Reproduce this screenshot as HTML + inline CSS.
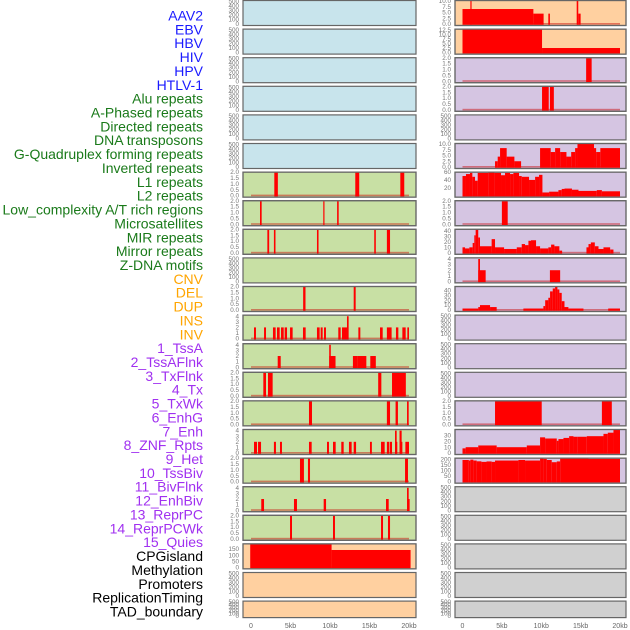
<!DOCTYPE html>
<html><head><meta charset="utf-8">
<style>
html,body{margin:0;padding:0;background:#fff;width:630px;height:630px;overflow:hidden}
svg{display:block;font-family:"Liberation Sans",sans-serif}
</style></head>
<body>
<svg id="chart" width="630" height="630" viewBox="0 0 630 630" xmlns="http://www.w3.org/2000/svg"></svg>
<script>
const trackLabels=["AAV2","EBV","HBV","HIV","HPV","HTLV-1","Alu repeats","A-Phased repeats","Directed repeats","DNA transposons","G-Quadruplex forming repeats","Inverted repeats","L1 repeats","L2 repeats","Low_complexity A/T rich regions","Microsatellites","MIR repeats","Mirror repeats","Z-DNA motifs","CNV","DEL","DUP","INS","INV","1_TssA","2_TssAFlnk","3_TxFlnk","4_Tx","5_TxWk","6_EnhG","7_Enh","8_ZNF_Rpts","9_Het","10_TssBiv","11_BivFlnk","12_EnhBiv","13_ReprPC","14_ReprPCWk","15_Quies","CPGisland","Methylation","Promoters","ReplicationTiming","TAD_boundary"];
const labelColors=[].concat(Array(6).fill("#1a1aff"),Array(13).fill("#1a7a1a"),Array(5).fill("#ffa500"),Array(15).fill("#a030f0"),Array(5).fill("#000"));
const xTickLabels=["0","5kb","10kb","15kb","20kb"];
const xTickValues=[0,5,10,15,20];
const emptyTicks=[0,100,200,300,400,500];
const t2=[0,0.5,1,1.5,2];
const t4=[0,1,2,3,4];
// segments: [startKb,endKb,value]
const L6=[[2.95,3.4,2],[13.2,13.7,2],[18.9,19.4,2]];
const L7=[[1.14,1.35,2],[9.15,9.3,2],[10.9,11.1,2]];
const L8=[[2.07,2.3,2],[2.9,3.1,2],[8.35,8.55,2],[15.6,15.8,2],[17.2,17.6,2]];
const L10=[[6.6,6.9,2],[13.0,13.25,2]];
const L11=[[0.38,0.63,2],[1.65,1.9,2],[2.78,3.12,2],[3.29,3.63,2],[3.8,4.14,2],[4.26,4.56,2],[4.94,5.27,2],[6.58,6.92,2],[8.35,8.69,2],[8.82,9.07,2],[9.24,9.49,2],[11.05,11.35,2],[11.52,12.15,2],[12.15,12.36,4],[13.59,13.84,2],[16.33,16.67,2],[17.2,17.8,2],[18.35,18.65,2],[19.16,19.58,2],[19.79,20.0,2]];
const L12=[[3.38,3.76,2],[9.9,10.7,2],[9.9,10.1,4],[12.9,13.5,2],[13.5,14.6,2],[15.1,15.8,2]];
const L13=[[1.56,1.9,2],[2.15,2.74,2],[16.1,16.5,2],[17.85,19.6,2]];
const L14=[[7.34,7.72,2],[17.2,17.6,2],[18.3,18.6,2],[19.75,19.96,2]];
const L15=[[0.38,0.76,2],[0.89,1.27,2],[2.9,3.16,2],[3.67,3.92,2],[7.34,7.68,2],[9.62,9.87,2],[10.38,10.72,2],[11.43,11.73,2],[12.4,12.74,2],[13.0,13.3,2],[15.06,15.3,2],[16.46,16.92,2],[17.2,17.47,2],[17.55,17.85,2],[18.23,18.52,2],[18.86,19.16,2],[19.54,20.0,2],[18.23,18.44,4],[18.8,19.07,4]];
const L16=[[6.2,6.7,2],[7.21,7.47,2],[19.5,19.87,2]];
const L17=[[1.3,1.65,2],[5.44,5.82,2],[9.2,9.5,2],[17.09,17.43,2],[19.79,20.08,2],[19.75,19.96,4]];
const L18=[[4.94,5.19,2],[10.38,10.63,2],[16.46,16.71,2],[17.34,17.6,2]];
const L19=[[-0.1,10.2,190],[10.2,20.2,143]];
const R0=[[0,9.0,6.5],[9.0,10.3,4.5],[1.0,1.15,10.2],[10.9,11.1,4.5],[14.5,14.7,10.2],[14.7,15.0,4.5]];
const R1=[[0,10.1,12.8],[10.1,20.0,2.5]];
const R2=[[15.7,16.4,2]];
const R3=[[10.1,10.95,2],[11.1,11.6,2]];
const R5=[[4.13,4.47,2.5],[4.47,4.77,4.5],[4.77,5.61,8.2],[5.61,6.59,4.5],[6.59,7.44,2.5],[9.85,11.2,8.2],[11.2,11.76,6.5],[11.76,12.4,8.2],[12.4,13.2,6.5],[13.2,13.8,4.5],[13.8,14.3,6.5],[14.3,14.6,8.2],[14.6,16.7,10.2],[16.7,16.97,8.2],[16.97,17.5,6.5],[17.5,20.0,8.2]];
const R6=[[0,0.44,50],[0.44,0.95,55],[0.95,1.25,58],[1.25,1.59,48],[1.59,1.93,38],[1.93,3.28,58],[3.28,4.05,60],[4.05,4.89,58],[4.89,5.4,52],[5.4,6.04,58],[6.04,6.46,55],[6.46,7.18,58],[7.18,7.52,50],[7.52,8.45,48],[8.45,9.22,40],[9.22,9.72,48],[9.72,10.15,53],[10.15,11.0,8],[11.0,12.18,10],[12.18,12.6,14],[12.6,12.95,17],[12.95,13.9,18],[13.9,14.73,15],[14.73,17.05,12],[17.05,17.7,14],[17.7,20.0,11]];
const R7=[[5.0,5.74,2]];
const R8=[[0,0.32,10],[0.32,0.87,8],[0.87,1.29,10],[1.29,1.5,18],[1.5,1.67,32],[1.67,2.0,43],[2.0,2.22,28],[2.22,3.7,12],[3.7,4.13,25],[4.13,5.28,10],[5.28,6.89,7],[6.89,7.52,10],[7.52,7.94,16],[7.94,8.37,14],[8.37,8.7,22],[8.7,9.34,23],[9.34,9.85,12],[9.85,10.9,8],[10.9,11.25,10],[11.25,11.67,15],[11.67,12.3,12],[12.3,12.65,4],[15.74,16.0,10],[16.0,16.3,16],[16.3,16.8,19],[16.8,17.27,12],[17.27,17.9,7],[17.9,18.75,10],[18.75,19.17,6]];
const R9=[[2.0,2.94,2],[2.0,2.22,4],[11.1,12.4,2]];
const R10=[[0,2.0,3],[2.0,2.22,6],[2.22,3.5,10],[3.5,4.34,6],[7.73,10.27,3],[10.27,10.5,8],[10.5,10.9,20],[10.9,11.12,25],[11.12,11.46,38],[11.46,11.76,44],[11.76,12.05,48],[12.05,12.3,42],[12.3,12.6,35],[12.6,12.95,18],[12.95,13.45,6],[13.45,15.36,3],[18.5,20.0,3]];
const R14=[[4.13,10.06,2],[17.7,18.96,2]];
const R15=[[0,0.4,8],[0.4,2.0,10],[2.0,4.34,13],[4.34,8.16,10],[8.16,9.85,13],[9.85,10.49,27],[10.49,11.97,25],[11.97,12.18,21],[12.18,12.82,24],[12.82,13.54,26],[13.54,14.09,29],[14.09,14.64,28],[14.64,15.78,28],[15.78,17.9,29],[17.9,18.45,33],[18.45,19.17,35],[19.17,20.0,40]];
const R16=[[0,0.8,195],[0.8,1.0,190],[1.0,1.38,198],[1.38,1.8,190],[1.8,2.4,183],[2.4,3.05,178],[3.05,3.7,182],[3.7,4.13,178],[4.13,7.1,190],[7.1,7.94,195],[7.94,9.85,190],[9.85,10.27,210],[10.27,10.7,205],[10.7,11.33,195],[11.33,11.97,175],[11.97,12.4,182],[12.4,16.0,210],[16.0,20.0,205]];

const BLUE="#c8e4ec",GREEN="#c8e0a4",ORANGE="#ffd0a0",PURPLE="#d5c5e2",GRAY="#d0d0d0";
const leftPanels=[];
for(let i=0;i<22;i++){leftPanels.push({seg:null,ymax:520,ticks:emptyTicks,fmt:0,color:i<6?BLUE:(i<19?GREEN:ORANGE)});}
const setP=(p,seg,ymax,ticks,fmt)=>{p.seg=seg;p.ymax=ymax;p.ticks=ticks;p.fmt=fmt;};
setP(leftPanels[6],L6,2,t2,1);setP(leftPanels[7],L7,2,t2,1);setP(leftPanels[8],L8,2,t2,1);
setP(leftPanels[10],L10,2,t2,1);setP(leftPanels[11],L11,4.2,t4,0);setP(leftPanels[12],L12,4.2,t4,0);
setP(leftPanels[13],L13,2,t2,1);setP(leftPanels[14],L14,2,t2,1);setP(leftPanels[15],L15,4.2,t4,0);
setP(leftPanels[16],L16,2,t2,1);setP(leftPanels[17],L17,4.2,t4,0);setP(leftPanels[18],L18,2,t2,1);
setP(leftPanels[19],L19,193,[0,50,100,150],0);
const rightPanels=[];
for(let i=0;i<22;i++){rightPanels.push({seg:null,ymax:520,ticks:emptyTicks,fmt:0,color:i<2?ORANGE:(i<17?PURPLE:GRAY)});}
setP(rightPanels[0],R0,10.2,[0,2.5,5,7.5,10],1);setP(rightPanels[1],R1,12.8,[0,2.5,5,7.5,10,12.5],1);
setP(rightPanels[2],R2,2,t2,1);setP(rightPanels[3],R3,2,t2,1);setP(rightPanels[5],R5,10.2,[0,2.5,5,7.5,10],1);
setP(rightPanels[6],R6,60,[20,40,60],0);setP(rightPanels[7],R7,2,t2,1);setP(rightPanels[8],R8,43,[0,10,20,30,40],0);
setP(rightPanels[9],R9,4.2,t4,0);setP(rightPanels[10],R10,48,[0,10,20,30,40],0);setP(rightPanels[14],R14,2,t2,1);
setP(rightPanels[15],R15,40.5,[0,10,20,30],0);setP(rightPanels[16],R16,212,[0,50,100,150,200],0);

const NS="http://www.w3.org/2000/svg";
const svg=document.getElementById("chart");
function el(tag,attrs,parent){const e=document.createElementNS(NS,tag);for(const k in attrs)e.setAttribute(k,attrs[k]);(parent||svg).appendChild(e);return e;}

trackLabels.forEach((t,i)=>{
  const e=el("text",{x:203,y:20.5+i*13.86,"text-anchor":"end","font-size":"14",fill:labelColors[i]});
  e.textContent=t;
  
  
});

function drawColumn(panels,left,right,x0,pxPerKb,side){
  const xs=kb=>x0+kb*pxPerKb;
  panels.forEach((p,i)=>{
    const top=0.5+i*28.6, h=(i===21)?16.5:25;
    const g=el("g",{});
    
    
    const bg=el("rect",{x:left,y:top,width:right-left,height:h,fill:p.color,stroke:"#666","stroke-width":1.2},g);
    
    
    const y0=top+h-1.5;
    const ys=v=>y0-(v/p.ymax)*(h-1.5);
    p.ticks.forEach(v=>{
      const tx=el("text",{x:left-4,y:ys(v)+2.1,"text-anchor":"end","font-size":"6.3",fill:"#777"},g);
      tx.textContent=p.fmt?v.toFixed(1):String(v);
      
      
    });
    if(p.seg){
      const bl=el("rect",{x:xs(0),y:y0-1,width:xs(20)-xs(0),height:1.6,fill:"rgba(200,0,0,0.45)"},g);
      
      
      p.seg.forEach(s=>{
        const yt=Math.max(ys(s[2]),top+0.5);
        const r=el("rect",{x:xs(s[0]),y:yt,width:Math.max(xs(s[1])-xs(s[0]),1.2),height:y0-yt+0.8,fill:"#ff0000"},g);
        
        
      });
      el("rect",{x:left,y:top,width:right-left,height:h,fill:"none",stroke:"#666","stroke-width":1.2},g);
    }
  });
  xTickValues.forEach((v,k)=>{
    const t=el("text",{x:xs(v),y:628,"text-anchor":"middle","font-size":"7",fill:"#666"});
    t.textContent=xTickLabels[k];
    
    
  });
}
drawColumn(leftPanels,243,416,251,7.9,"left");
drawColumn(rightPanels,455,626,462.5,7.875,"right");
</script>
</body></html>
